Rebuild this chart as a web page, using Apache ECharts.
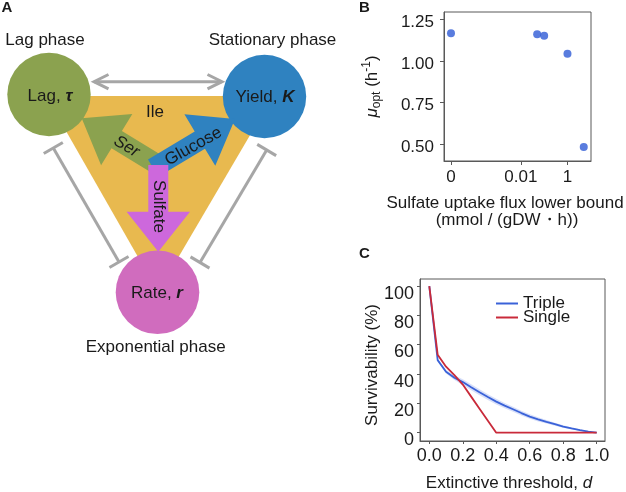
<!DOCTYPE html>
<html><head><meta charset="utf-8">
<script src="https://cdn.jsdelivr.net/npm/echarts@6/dist/echarts.min.js"></script>
<style>html,body{margin:0;padding:0;background:#fff}#c{width:626px;height:492px}</style>
</head><body><div id="c"></div>
<script>
// ---------- Panel B data ----------
const fluxLowerBound = [0, 0.05, 0.1, 1, 5];
const muOpt = [1.166, 1.160, 1.152, 1.044, 0.484];
const bXTicks = [0, 0.01, 1];
const bYTicks = [0.5, 0.75, 1.0, 1.25];
// ---------- Panel C data ----------
const threshold = [0, 0.05, 0.1, 0.15, 0.2, 0.25, 0.3, 0.35, 0.4, 0.45, 0.5, 0.55, 0.6, 0.65, 0.7, 0.75, 0.8, 0.85, 0.9, 0.95, 1.0];
const survTriple = [100, 49.5, 41.5, 37.5, 34.5, 31, 27.6, 24.3, 21.2, 18.5, 16, 13.4, 11, 9.1, 7.4, 5.8, 4.2, 2.9, 1.8, 0.8, 0];
const survSingle = [100, 53.2, 45, 39.2, 32.8, 24.6, 16.4, 8.2, 0, 0, 0, 0, 0, 0, 0, 0, 0, 0, 0, 0, 0];
const tripleBand = [0, 0.6, 1.2, 1.6, 1.9, 2.0, 2.0, 2.0, 1.9, 1.8, 1.7, 1.6, 1.5, 1.4, 1.2, 1.0, 0.9, 0.7, 0.5, 0.3, 0];
const cXTicks = [0, 0.2, 0.4, 0.6, 0.8, 1.0];
const cYTicks = [0, 20, 40, 60, 80, 100];
const legendNames = ['Triple', 'Single'];
// ---------- Panel A labels ----------
const phaseLabels = ['Lag phase', 'Stationary phase', 'Exponential phase'];
const arrowLabels = ['Ser', 'Glucose', 'Sulfate', 'Ile'];

const FF = '"Liberation Sans", Arial, Helvetica, sans-serif';
const TXT = '#1a1a1a';
const AX = '#595959';
const BLUE = '#3a62d8';
const RED = '#c92a3a';

function arrowPts(cx, cy, tx, ty, sw, hl, hw, back) {
  const dx = tx - cx, dy = ty - cy, L = Math.hypot(dx, dy);
  const ux = dx / L, uy = dy / L, nx = -uy, ny = ux;
  const sx = cx - ux * back, sy = cy - uy * back;
  const bx = tx - ux * hl, by = ty - uy * hl;
  return [[sx + nx * sw, sy + ny * sw], [bx + nx * sw, by + ny * sw], [bx + nx * hw, by + ny * hw], [tx, ty],
          [bx - nx * hw, by - ny * hw], [bx - nx * sw, by - ny * sw], [sx - nx * sw, sy - ny * sw]];
}
function inhib(x1, y1, x2, y2, half) {
  const dx = x2 - x1, dy = y2 - y1, L = Math.hypot(dx, dy);
  const nx = -dy / L * half, ny = dx / L * half;
  const st = {stroke: '#a6a6a6', lineWidth: 3};
  return [
    {type: 'line', shape: {x1, y1, x2, y2}, style: st},
    {type: 'line', shape: {x1: x1 - nx, y1: y1 - ny, x2: x1 + nx, y2: y1 + ny}, style: st},
    {type: 'line', shape: {x1: x2 - nx, y1: y2 - ny, x2: x2 + nx, y2: y2 + ny}, style: st}
  ];
}
function txt(x, y, text, size, extra) {
  return Object.assign({type: 'text', x, y, style: Object.assign({text, fontSize: size, fontFamily: FF, fill: TXT, align: 'center', verticalAlign: 'middle'}, extra || {})});
}

const cen = [158.3, 165];
const richBI = {n: {fontSize: 17, fontFamily: FF, fill: TXT}, s: {fontSize: 17, fontFamily: FF, fontWeight: 'bold', fontStyle: 'italic', fill: TXT}};
const graphics = [
  {type: 'polygon', shape: {points: [[46, 96], [273, 96], [158, 292]]}, style: {fill: '#e8b94f'}},
  {type: 'circle', shape: {cx: 49, cy: 94.5, r: 41.7}, style: {fill: '#8ba24f'}},
  {type: 'circle', shape: {cx: 264.5, cy: 96.5, r: 41.7}, style: {fill: '#2f82c0'}},
  {type: 'circle', shape: {cx: 157.5, cy: 292.3, r: 41.8}, style: {fill: '#d06cbe'}},
  {type: 'polygon', shape: {points: arrowPts(cen[0], cen[1], 81.7, 118.3, 10, 41, 30, 6)}, style: {fill: '#8ba24f'}},
  {type: 'polygon', shape: {points: arrowPts(cen[0], cen[1], 235, 119, 10, 41, 30, 6)}, style: {fill: '#2f82c0'}},
  {type: 'polygon', shape: {points: arrowPts(cen[0], cen[1], 158.3, 251.7, 10, 40, 31.7, 0)}, style: {fill: '#cd68dc'}},
  {type: 'line', shape: {x1: 94, y1: 81.7, x2: 222, y2: 81.7}, style: {stroke: '#a6a6a6', lineWidth: 3}},
  {type: 'polyline', shape: {points: [[108.5, 74.5], [94, 81.7], [108.5, 88.9]]}, style: {stroke: '#a6a6a6', lineWidth: 3, fill: null}},
  {type: 'polyline', shape: {points: [[207.5, 74.5], [222, 81.7], [207.5, 88.9]]}, style: {stroke: '#a6a6a6', lineWidth: 3, fill: null}},
  ...inhib(53.3, 148, 119, 262, 11),
  ...inhib(266.7, 150, 200, 262.5, 11),
  txt(7, 7.5, 'A', 15, {fontWeight: 'bold'}),
  txt(364.5, 7.5, 'B', 15, {fontWeight: 'bold'}),
  txt(364.5, 254, 'C', 15, {fontWeight: 'bold'}),
  txt(45, 40, phaseLabels[0], 17),
  txt(272.5, 40, phaseLabels[1], 17),
  txt(155.7, 347, phaseLabels[2], 17),
  txt(50, 96, '{n|Lag, }{s|τ}', 17, {rich: richBI}),
  txt(265, 97.5, '{n|Yield, }{s|K}', 17, {rich: richBI}),
  txt(157, 293.5, '{n|Rate, }{s|r}', 17, {rich: richBI}),
  Object.assign(txt(126.5, 146.5, arrowLabels[0], 17, {fontStyle: 'italic'}), {rotation: -31.5 * Math.PI / 180}),
  Object.assign(txt(193.5, 146.5, arrowLabels[1], 17), {rotation: 29 * Math.PI / 180}),
  Object.assign(txt(158.3, 206.5, arrowLabels[2], 17), {rotation: -Math.PI / 2}),
  txt(155, 112, arrowLabels[3], 17),
  Object.assign(txt(372, 86.5, '{mu|μ}{sub|opt}{n| (h}{sup|-1}{n|)}', 17, {rich: {
    mu: {fontSize: 17, fontStyle: 'italic', fontFamily: FF, fill: TXT, lineHeight: 22},
    n: {fontSize: 17, fontFamily: FF, fill: TXT, lineHeight: 22},
    sub: {fontSize: 12, fontFamily: FF, fill: TXT, verticalAlign: 'bottom', lineHeight: 22},
    sup: {fontSize: 12, fontFamily: FF, fill: TXT, verticalAlign: 'top', lineHeight: 22}}}), {rotation: Math.PI / 2}),
  txt(505, 203, 'Sulfate uptake flux lower bound', 17),
  txt(507, 220, '(mmol / (gDW・h))', 17),
  Object.assign(txt(372, 365, 'Survivability (%)', 17), {rotation: Math.PI / 2}),
  txt(509, 483, '{n|Extinctive threshold, }{i|d}', 17, {rich: {n: {fontSize: 17, fontFamily: FF, fill: TXT}, i: {fontSize: 17, fontFamily: FF, fontStyle: 'italic', fill: TXT}}})
];

const chart = echarts.init(document.getElementById('c'), null, {renderer: 'canvas'});
const axisLbl = {color: TXT, fontSize: 17, fontFamily: FF};
const axisLblC = {color: TXT, fontSize: 18, fontFamily: FF};
chart.setOption({
  animation: false,
  backgroundColor: '#fff',
  graphic: {elements: graphics},
  grid: [
    {left: 444, top: 12, width: 147, height: 149, show: true, borderColor: AX, borderWidth: 1, containLabel: false},
    {left: 420, top: 279, width: 185, height: 162, show: true, borderColor: AX, borderWidth: 1, containLabel: false}
  ],
  xAxis: [
    {type: 'log', gridIndex: 0, logBase: 10, min: Math.pow(10, -5.3), max: Math.pow(10, 1.01),
     axisLine: {onZero: false, lineStyle: {color: AX}}, splitLine: {show: false}, minorTick: {show: false},
     axisTick: {length: 4, lineStyle: {color: AX}, customValues: bXTicks.map(v => v === 0 ? 1e-5 : v)},
     axisLabel: Object.assign({margin: 8, customValues: bXTicks.map(v => v === 0 ? 1e-5 : v),
       formatter: v => (Math.abs(Math.log10(v) + 5) < 0.01 ? '0' : (Math.abs(Math.log10(v) + 2) < 0.01 ? '0.01' : '1'))}, axisLbl)},
    {type: 'value', gridIndex: 1, min: -0.0556, max: 1.0496,
     axisLine: {onZero: false, lineStyle: {color: AX}}, splitLine: {show: false},
     axisTick: {length: 3, lineStyle: {color: AX}, customValues: cXTicks},
     axisLabel: Object.assign({margin: 6, customValues: cXTicks, formatter: v => v.toFixed(1)}, axisLblC)}
  ],
  yAxis: [
    {type: 'value', gridIndex: 0, min: 0.3996, max: 1.294,
     axisLine: {onZero: false, lineStyle: {color: AX}}, splitLine: {show: false},
     axisTick: {length: 4, lineStyle: {color: AX}, customValues: bYTicks},
     axisLabel: Object.assign({margin: 10, verticalAlign: 'top', lineHeight: 6, customValues: bYTicks, formatter: v => v.toFixed(2)}, axisLbl)},
    {type: 'value', gridIndex: 1, min: -5.66, max: 104.8,
     axisLine: {onZero: false, lineStyle: {color: AX}}, splitLine: {show: false},
     axisTick: {length: 3, lineStyle: {color: AX}, customValues: cYTicks},
     axisLabel: Object.assign({margin: 6, verticalAlign: 'top', lineHeight: 15, customValues: cYTicks}, axisLblC)}
  ],
  legend: {
    data: legendNames, orient: 'vertical', left: 491, top: 290, itemWidth: 22, itemHeight: 2, itemGap: -3,
    icon: 'rect', textStyle: {fontSize: 17, fontFamily: FF, color: TXT}
  },
  series: [
    {type: 'scatter', xAxisIndex: 0, yAxisIndex: 0, symbolSize: 8, itemStyle: {color: '#2f5bd6'},
     data: fluxLowerBound.map((v, i) => [v === 0 ? 1e-5 : v, muOpt[i]])},
    {type: 'custom', xAxisIndex: 1, yAxisIndex: 1, silent: true, z: 1, data: [[0.5, 50]],
     renderItem: function (params, api) {
       const up = threshold.map((x, i) => api.coord([x, survTriple[i] + tripleBand[i]]));
       const lo = threshold.map((x, i) => api.coord([x, survTriple[i] - tripleBand[i]])).reverse();
       return {type: 'polygon', shape: {points: up.concat(lo)}, style: {fill: 'rgba(110,140,235,0.28)'}};
     }},
    {name: 'Triple', type: 'line', xAxisIndex: 1, yAxisIndex: 1, showSymbol: false, symbol: 'none', z: 3,
     lineStyle: {color: BLUE, width: 1.8}, itemStyle: {color: BLUE},
     data: threshold.map((x, i) => [x, survTriple[i]])},
    {name: 'Single', type: 'line', xAxisIndex: 1, yAxisIndex: 1, showSymbol: false, symbol: 'none', z: 4,
     lineStyle: {color: RED, width: 1.8}, itemStyle: {color: RED},
     data: threshold.map((x, i) => [x, survSingle[i]])}
  ]
});
</script></body></html>
